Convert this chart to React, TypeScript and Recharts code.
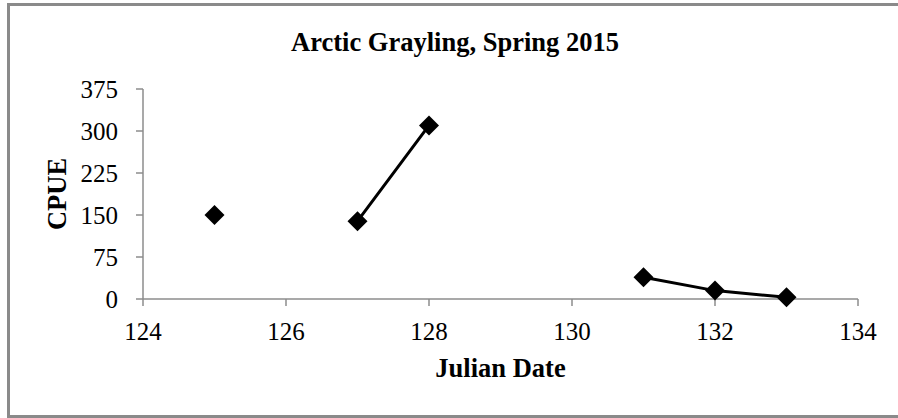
import React from 'react';
import { LineChart, Line, XAxis, YAxis, Label } from 'recharts';

// Sampling days (Julian date) and catch per unit effort; null = no sample that day
const julianDates = [125, 126, 127, 128, 129, 130, 131, 132, 133];
const cpueValues: (number | null)[] = [150, null, 139, 310, null, null, 39, 15, 3];

const xTicks = [124, 126, 128, 130, 132, 134];
const yTicks = [0, 75, 150, 225, 300, 375];

const data = julianDates.map((day, i) => ({ day, cpue: cpueValues[i] }));

const FONT = '"Liberation Serif", "Times New Roman", serif';
const AXIS_GRAY = '#8c8c8c';

const Diamond = (props: any) => {
  const { cx, cy, value, index } = props;
  if (value == null || cx == null || cy == null || isNaN(cy)) return <g key={`d-${index}`} />;
  const r = 10;
  return (
    <path
      key={`d-${index}`}
      d={`M${cx},${cy - r}L${cx + r},${cy}L${cx},${cy + r}L${cx - r},${cy}Z`}
      fill="#000"
      stroke="none"
    />
  );
};

const XTitle = (props: any) => {
  const vb = props.viewBox || {};
  const cx = vb.x + vb.width / 2;
  return (
    <text x={cx} y={377} textAnchor="middle" fontFamily={FONT} fontWeight="bold" fontSize={26.5} fill="#000">
      Julian Date
    </text>
  );
};

const YTitle = (props: any) => {
  const vb = props.viewBox || {};
  const cy = vb.y + vb.height / 2;
  const x = 66;
  return (
    <text
      x={x}
      y={cy}
      transform={`rotate(-90, ${x}, ${cy})`}
      textAnchor="middle"
      fontFamily={FONT}
      fontWeight="bold"
      fontSize={26.5}
      fill="#000"
    >
      CPUE
    </text>
  );
};

export default function App() {
  return (
    <div style={{ position: 'absolute', left: 0, top: 0, width: 898, height: 418, background: '#fff', overflow: 'hidden' }}>
      <div
        style={{
          position: 'absolute',
          left: 7,
          top: 3,
          width: 900,
          height: 415,
          boxSizing: 'border-box',
          border: '3px solid #8a8a8a',
        }}
      />
      <div
        style={{
          position: 'absolute',
          left: 0,
          top: 29,
          width: 910,
          textAlign: 'center',
          fontFamily: FONT,
          fontWeight: 'bold',
          fontSize: 26.5,
          lineHeight: '26px',
          color: '#000',
        }}
      >
        Arctic Grayling, Spring 2015
      </div>
      <div style={{ position: 'absolute', left: 0, top: 0 }}>
        <LineChart width={898} height={418} data={data} margin={{ top: 89, right: 40, left: 0, bottom: 0 }}>
          <XAxis
            type="number"
            dataKey="day"
            domain={[124, 134]}
            ticks={xTicks}
            interval={0}
            height={119}
            tickSize={7}
            tickMargin={16}
            axisLine={{ stroke: AXIS_GRAY, strokeWidth: 1.5 }}
            tickLine={{ stroke: AXIS_GRAY, strokeWidth: 1.5 }}
            tick={{ fill: '#000', fontFamily: FONT, fontSize: 25 }}
          >
            <Label content={<XTitle />} />
          </XAxis>
          <YAxis
            type="number"
            domain={[0, 375]}
            ticks={yTicks}
            interval={0}
            width={143}
            tickSize={7}
            tickMargin={18}
            axisLine={{ stroke: AXIS_GRAY, strokeWidth: 1.5 }}
            tickLine={{ stroke: AXIS_GRAY, strokeWidth: 1.5 }}
            tick={{ fill: '#000', fontFamily: FONT, fontSize: 25 }}
          >
            <Label content={<YTitle />} />
          </YAxis>
          <Line
            type="linear"
            dataKey="cpue"
            stroke="#000"
            strokeWidth={3}
            connectNulls={false}
            dot={<Diamond />}
            activeDot={false}
            isAnimationActive={false}
          />
        </LineChart>
      </div>
    </div>
  );
}
